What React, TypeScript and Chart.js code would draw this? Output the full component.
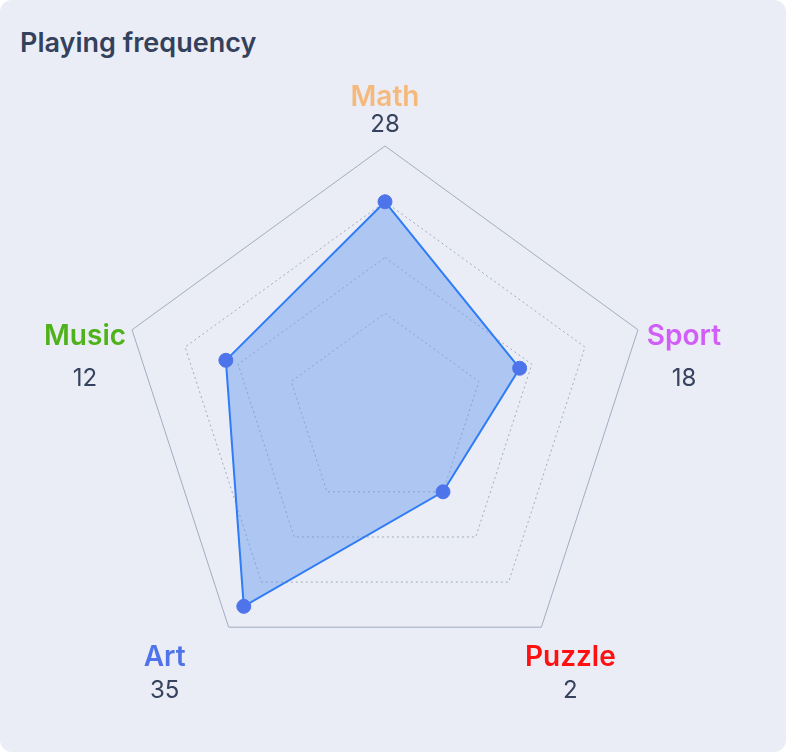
import React, { useEffect, useRef } from "react";
import { Chart, registerables } from "chart.js";

Chart.register(...registerables);

const title = "Playing frequency";
const categories = ["Math", "Sport", "Puzzle", "Art", "Music"];
const categoryColors = ["#f6b97c", "#d15ff7", "#ff1111", "#4f73e9", "#50b21a"];
const shownValues = [28, 18, 2, 35, 12];
const plottedValues = [28, 12, 2, 35, 18];
const scaleMin = -21;
const scaleMax = 41;
const gridTicks = [-21, 2, 15, 28, 41];

// label block placement relative to each axis tip: [centerDx, nameBaselineDy, valueBaselineDy]
const labelLayout = [
  [0, -40, -14],
  [46, 15, 56],
  [29, 39, 71],
  [-64, 39, 71],
  [-47, 15, 56],
];

const labelPlugin = {
  id: "customPointLabels",
  afterDraw(chart: any) {
    const scale = chart.scales.r;
    const ctx = chart.ctx;
    ctx.save();
    ctx.textAlign = "center";
    ctx.textBaseline = "alphabetic";
    categories.forEach((name, i) => {
      const p = scale.getPointPosition(i, scale.drawingArea);
      const [dx, ny, vy] = labelLayout[i];
      ctx.font = "600 28px Inter";
      ctx.fillStyle = categoryColors[i];
      ctx.fillText(name, p.x + dx, p.y + ny);
      ctx.font = "400 24px Inter";
      ctx.fillStyle = "#36425e";
      ctx.fillText(String(shownValues[i]), p.x + dx, p.y + vy);
    });
    ctx.restore();
  },
};

export default function App() {
  const ref = useRef<HTMLCanvasElement>(null);
  useEffect(() => {
    if (!ref.current) return;
    const chart = new Chart(ref.current, {
      type: "radar",
      data: {
        labels: categories,
        datasets: [
          {
            data: plottedValues,
            backgroundColor: "rgba(100, 150, 240, 0.45)",
            borderColor: "#2f7cf6",
            borderWidth: 2,
            pointRadius: 7,
            pointHoverRadius: 7,
            pointBackgroundColor: "#4d74ea",
            pointBorderColor: "#4d74ea",
            pointBorderWidth: 1,
            fill: "start",
          },
        ],
      },
      options: {
        animation: false,
        responsive: false,
        events: [],
        layout: { padding: { left: 119, right: 134, top: 146, bottom: 73 } },
        plugins: { legend: { display: false }, tooltip: { enabled: false } },
        scales: {
          r: {
            min: scaleMin,
            max: scaleMax,
            afterBuildTicks: (s: any) => {
              s.ticks = gridTicks.map((v) => ({ value: v }));
            },
            ticks: { display: false },
            angleLines: { display: false },
            pointLabels: { display: false },
            grid: {
              color: (c: any) => (c.tick && c.tick.value === scaleMax ? "#a3acc1" : "#a2abbd"),
              lineWidth: 1,
            },
            border: {
              dash: (c: any) => (c.tick && c.tick.value === scaleMax ? [] : [2, 3]),
            },
          },
        },
      },
      plugins: [labelPlugin],
    });
    return () => chart.destroy();
  }, []);
  return (
    <div
      style={{
        position: "absolute",
        left: 0,
        top: 0,
        width: 786,
        height: 752,
        background: "#eaedf5",
        borderRadius: 12,
        overflow: "hidden",
      }}
    >
      <div
        style={{
          position: "absolute",
          left: 20,
          top: 29,
          font: "600 27px Inter",
          lineHeight: "28px",
          color: "#34415d",
          whiteSpace: "nowrap",
        }}
      >
        {title}
      </div>
      <canvas ref={ref} width={786} height={752} style={{ position: "absolute", left: 0, top: 0 }} />
    </div>
  );
}
